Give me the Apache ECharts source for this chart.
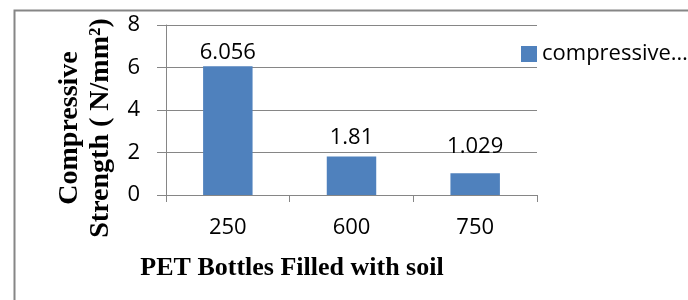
<!DOCTYPE html>
<html>
<head>
<meta charset="utf-8">
<script src="https://cdn.jsdelivr.net/npm/echarts@6/dist/echarts.min.js"></script>
<style>
  html, body { margin: 0; padding: 0; background: #fff; }
  #chart { width: 688px; height: 300px; }
</style>
</head>
<body>
<div id="chart"></div>
<script>
// chart values
const bottles = ["250", "600", "750"];
const strength = [6.056, 1.81, 1.029];
const seriesName = "compressive strength";
// label gaps above each bar (the source places them by hand)
const labelGaps = [3, 8, 15];

const gray = "#868686";
const labelFont = "'Open Sans', sans-serif";
const titleFont = "'Liberation Serif', 'Times New Roman', serif";

let chart = echarts.init(document.getElementById("chart"));
chart.setOption({
  animation: false,
  graphic: [
    {
      type: "rect",
      left: 12,
      top: 8,
      shape: { width: 700, height: 320 },
      style: { fill: "none", stroke: gray, lineWidth: 2 },
    },
  ],
  grid: {
    left: 166,
    right: 151,
    top: 25,
    bottom: 105,
    outerBoundsMode: "none",
  },
  legend: {
    left: 516,
    top: 38,
    itemWidth: 16,
    itemHeight: 16,
    itemGap: 6,
    icon: "rect",
    textStyle: {
      fontFamily: labelFont,
      fontSize: 22,
      color: "#000",
      width: 151,
      overflow: "truncate",
      ellipsis: "…",
    },
    data: [seriesName],
  },
  xAxis: {
    type: "category",
    data: bottles,
    name: "PET Bottles Filled with soil",
    nameLocation: "middle",
    nameGap: 60,
    nameTextStyle: {
      fontFamily: titleFont,
      fontWeight: "bold",
      fontSize: 26,
      color: "#000",
      padding: [0, 119, 0, 0],
    },
    axisLine: { lineStyle: { color: gray, width: 1 } },
    axisTick: { show: true, length: 7, lineStyle: { color: gray } },
    axisLabel: {
      margin: 22,
      fontFamily: labelFont,
      fontSize: 22,
      color: "#000",
    },
  },
  yAxis: {
    type: "value",
    min: 0,
    max: 8,
    interval: 2,
    name: "Compressive\nStrength ( N/mm²)",
    nameLocation: "middle",
    nameGap: 47,
    nameRotate: 90,
    nameTextStyle: {
      fontFamily: titleFont,
      fontWeight: "bold",
      fontSize: 28,
      lineHeight: 31,
      color: "#000",
      padding: [0, 36, 0, 0],
    },
    axisLine: { show: true, lineStyle: { color: gray, width: 1 } },
    axisTick: { show: true, length: 9, lineStyle: { color: gray } },
    splitLine: { lineStyle: { color: gray, width: 1 } },
    axisLabel: {
      margin: 26,
      fontFamily: labelFont,
      fontSize: 22,
      color: "#000",
    },
  },
  series: [
    {
      name: seriesName,
      type: "bar",
      barWidth: "40%",
      itemStyle: { color: "#4f81bd" },
      data: strength.map((v, i) => ({ value: v, label: { distance: labelGaps[i] } })),
      label: {
        show: true,
        position: "top",
        fontFamily: labelFont,
        fontSize: 22,
        color: "#000",
      },
    },
  ],
});
</script>
</body>
</html>
